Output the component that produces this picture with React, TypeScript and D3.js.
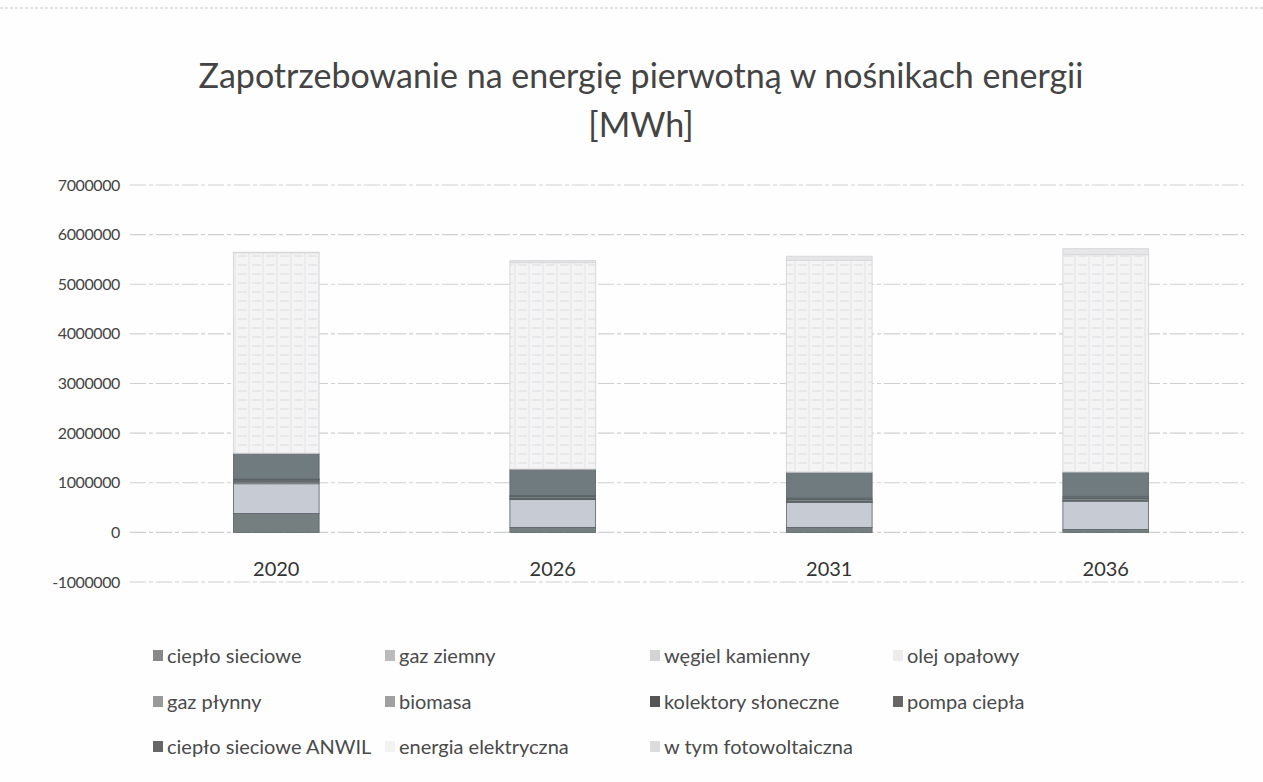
import React from 'react'
import * as d3 from 'd3'

const years = ['2020', '2026', '2031', '2036']

const cieploSieciowe = [380000, 100000, 100000, 60000]
const gazZiemny = [600000, 560000, 500000, 570000]
const wegielKamienny = [30000, 15000, 10000, 5000]
const olejOpalowy = [20000, 10000, 8000, 5000]
const gazPlynny = [10000, 8000, 6000, 5000]
const biomasa = [20000, 25000, 30000, 30000]
const kolektory = [5000, 8000, 10000, 12000]
const pompaCiepla = [10000, 20000, 30000, 40000]
const cieploAnwil = [520000, 530000, 520000, 490000]
const energiaElektryczna = [4040000, 4160000, 4270000, 4380000]
const fotowoltaiczna = [10000, 40000, 80000, 120000]

const yTicks = [-1000000, 0, 1000000, 2000000, 3000000, 4000000, 5000000, 6000000, 7000000]

const seriesList = [
  { name: 'ciepło sieciowe', values: cieploSieciowe, color: '#767f80' },
  { name: 'gaz ziemny', values: gazZiemny, color: '#c6cbd4' },
  { name: 'węgiel kamienny', values: wegielKamienny, color: '#cfd1d3' },
  { name: 'olej opałowy', values: olejOpalowy, color: '#e4e4e4' },
  { name: 'gaz płynny', values: gazPlynny, color: '#9aa0a3' },
  { name: 'biomasa', values: biomasa, color: '#a4a8a8' },
  { name: 'kolektory słoneczne', values: kolektory, color: '#5f676b' },
  { name: 'pompa ciepła', values: pompaCiepla, color: '#6b7275' },
  { name: 'ciepło sieciowe ANWIL', values: cieploAnwil, color: '#707b80' },
  { name: 'energia elektryczna', values: energiaElektryczna, color: 'url(#scan)' },
  { name: 'w tym fotowoltaiczna', values: fotowoltaiczna, color: '#e6e6e8' },
]

// legend layout: 4 columns, 3 rows
const legendCols = [153, 385, 650, 893]
const legendRows = [656, 702, 747]
const legendSwatch = ['#888', '#bbb', '#d4d4d4', '#ececec', '#999', '#a0a0a0', '#555', '#666', '#666', '#f2f2f2', '#dcdcdc']

export default function App() {
  const width = 1263
  const height = 782
  const margin = { left: 138, right: 19, top: 185, bottom: 202 }

  const table = years.map((y, i) => {
    const row: any = { year: y }
    seriesList.forEach(s => { row[s.name] = s.values[i] })
    return row
  })
  const stacked = d3.stack<any>().keys(seriesList.map(s => s.name))(table)

  const x = d3.scaleBand()
    .domain(years)
    .range([margin.left, width - margin.right])
    .paddingInner(0.69)
    .paddingOuter(0.345)

  const y = d3.scaleLinear()
    .domain([-1000000, 7000000])
    .range([height - margin.bottom + 2, margin.top])

  const font = 'Lato, "Open Sans", sans-serif'

  return (
    <svg width={width} height={height} style={{ position: 'absolute', left: 0, top: 0, background: '#fff' }}>
      <defs>
        <pattern id="scan" width="14" height="9" patternUnits="userSpaceOnUse">
          <rect width="14" height="9" fill="#f4f4f5" />
          <line x1="0" y1="4" x2="9" y2="4" stroke="#dcdcdf" strokeWidth="1" />
          <line x1="11" y1="0" x2="11" y2="9" stroke="#e3e3e5" strokeWidth="1" />
        </pattern>
      </defs>
      <rect width={width} height={height} fill="#fefefe" />
      <line x1={0} x2={width} y1={8} y2={8} stroke="#c8c8c8" strokeDasharray="3 2" />

      <text x={641} y={88} textAnchor="middle" fontFamily={font} fontSize={34} fill="#444">
        Zapotrzebowanie na energię pierwotną w nośnikach energii
      </text>
      <text x={641} y={137} textAnchor="middle" fontFamily={font} fontSize={34} fill="#444">
        [MWh]
      </text>

      {/* grid + y labels */}
      <g>
        {yTicks.map(t => (
          <g key={t}>
            <line x1={margin.left - 8} x2={width - margin.right} y1={y(t)} y2={y(t)}
              stroke="#cfcfcf" strokeWidth={1.2} strokeDasharray="16 3 4 3" />
            <text x={120} y={y(t)} dy="0.35em" textAnchor="end" fontFamily={font} fontSize={16}
              letterSpacing={-0.4} fill="#444">
              {t}
            </text>
          </g>
        ))}
      </g>

      {/* bars */}
      {stacked.map((layer, li) => (
        <g key={layer.key}>
          {layer.map((d, i) => (
            <rect key={i}
              x={x(years[i])}
              y={y(d[1])}
              width={x.bandwidth()}
              height={Math.max(0, y(d[0]) - y(d[1]))}
              fill={seriesList[li].color}
              stroke={li >= 9 ? '#d8d8da' : '#5a6266'}
              strokeWidth={li >= 9 ? 1 : 0.8} />
          ))}
        </g>
      ))}

      {/* category labels */}
      {years.map(yr => (
        <text key={yr} x={x(yr)! + x.bandwidth() / 2} y={y(0) + 44} textAnchor="middle"
          fontFamily={font} fontSize={20} fill="#333">
          {yr}
        </text>
      ))}

      {/* legend */}
      {seriesList.map((s, i) => {
        const cx = legendCols[i % 4]
        const cy = legendRows[Math.floor(i / 4)]
        return (
          <g key={s.name} transform={`translate(${cx}, ${cy})`}>
            <rect x={0} y={-6} width={10} height={11} fill={legendSwatch[i]} />
            <text x={14} y={0} dy="0.35em" fontFamily={font} fontSize={20} fill="#4a4a4a">{s.name}</text>
          </g>
        )
      })}
    </svg>
  )
}
